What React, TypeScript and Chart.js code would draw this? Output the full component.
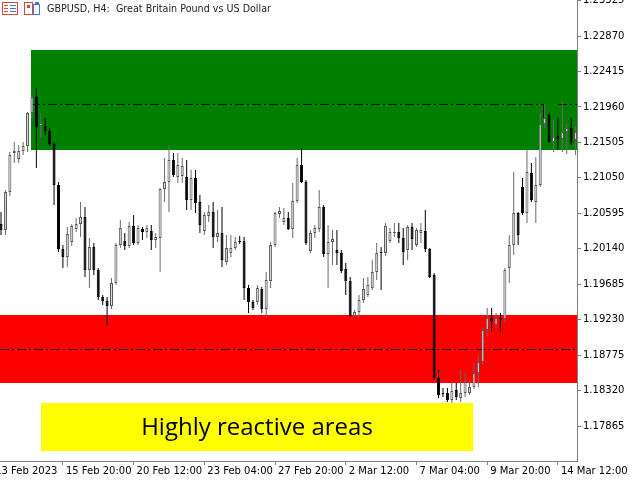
import React, { useEffect, useRef } from 'react';
import { Chart, registerables } from 'chart.js';

Chart.register(...registerables);

// ---- Data (GBPUSD H4) ----
const opens = [
  1.20458, 1.20380, 1.20868, 1.21369, 1.21292, 1.21394, 1.21459, 1.21882, 1.22087, 1.21715,
  1.21715, 1.21651, 1.21485, 1.20958, 1.20137, 1.20034, 1.20226, 1.20394, 1.20458, 1.20547,
  1.19867, 1.20162, 1.19867, 1.19520, 1.19470, 1.19406, 1.19701, 1.20188, 1.20239, 1.20175,
  1.20432, 1.20214, 1.20394, 1.20354, 1.20367, 1.20252, 1.20277, 1.20906, 1.20996, 1.21279,
  1.21060, 1.21073, 1.21060, 1.20766, 1.21047, 1.20740, 1.20367, 1.20560, 1.20611, 1.20290,
  1.20342, 1.19969, 1.20086, 1.20149, 1.20239, 1.20239, 1.19636, 1.19457, 1.19457, 1.19624,
  1.19368, 1.19726, 1.20188, 1.20586, 1.20483, 1.20534, 1.20394, 1.20753, 1.21215, 1.20996,
  1.20111, 1.20342, 1.20394, 1.20676, 1.20073, 1.20226, 1.20124, 1.20086, 1.19880, 1.19726,
  1.19277, 1.19328, 1.19483, 1.19546, 1.19636, 1.19841, 1.20098, 1.20086, 1.20239, 1.20342,
  1.20354, 1.20277, 1.20124, 1.20419, 1.20188, 1.20342, 1.20367, 1.20137, 1.19803, 1.18481,
  1.18289, 1.18289, 1.18199, 1.18327, 1.18224, 1.18289, 1.18289, 1.18365, 1.18546, 1.18686,
  1.19097, 1.19251, 1.19161, 1.19251, 1.19238, 1.19892, 1.20188, 1.20599, 1.20932, 1.20599,
  1.21111, 1.20740, 1.20958, 1.21741, 1.21856, 1.21510, 1.21587, 1.21549, 1.21638, 1.21689,
  1.21536,
];
const highs = [
  1.20611, 1.20894, 1.21381, 1.21510, 1.21472, 1.21510, 1.21894, 1.22113, 1.22202, 1.21882,
  1.21817, 1.21689, 1.21510, 1.20996, 1.20188, 1.20419, 1.20458, 1.20534, 1.20740, 1.20676,
  1.20277, 1.20214, 1.19892, 1.19546, 1.19520, 1.19764, 1.20214, 1.20509, 1.20342, 1.20483,
  1.20573, 1.20445, 1.20419, 1.20445, 1.20445, 1.20342, 1.20919, 1.21304, 1.21472, 1.21369,
  1.21369, 1.21304, 1.21279, 1.21150, 1.21150, 1.20830, 1.20611, 1.20702, 1.20740, 1.20637,
  1.20676, 1.20316, 1.20316, 1.20290, 1.20303, 1.20290, 1.19675, 1.19483, 1.19675, 1.19649,
  1.19841, 1.20226, 1.20611, 1.20676, 1.20663, 1.20611, 1.20984, 1.21304, 1.21433, 1.21022,
  1.20380, 1.20445, 1.20894, 1.20702, 1.20445, 1.20380, 1.20380, 1.20124, 1.19956, 1.19777,
  1.19354, 1.19546, 1.19764, 1.19777, 1.19995, 1.20214, 1.20162, 1.20470, 1.20406, 1.20470,
  1.20470, 1.20406, 1.20445, 1.20470, 1.20406, 1.20470, 1.20637, 1.20149, 1.19829, 1.18584,
  1.18352, 1.18352, 1.18417, 1.18417, 1.18584, 1.18546, 1.18430, 1.18674, 1.18777, 1.19135,
  1.19380, 1.19380, 1.19316, 1.19316, 1.19892, 1.20316, 1.21124, 1.20611, 1.21047, 1.21407,
  1.21241, 1.21317, 1.21882, 1.21998, 1.21882, 1.21792, 1.21817, 1.22036, 1.21741, 1.21817,
  1.21715,
];
const lows = [
  1.20316, 1.20316, 1.20817, 1.21241, 1.21241, 1.21343, 1.21381, 1.21817, 1.21176, 1.21561,
  1.21600, 1.21459, 1.20702, 1.20098, 1.19892, 1.19905, 1.20175, 1.20354, 1.20290, 1.19777,
  1.19636, 1.19803, 1.19483, 1.19419, 1.19161, 1.19368, 1.19675, 1.20149, 1.20124, 1.20149,
  1.20188, 1.20188, 1.20252, 1.20277, 1.20124, 1.20149, 1.19841, 1.20740, 1.20611, 1.21060,
  1.20984, 1.20984, 1.20637, 1.20637, 1.20599, 1.20342, 1.20316, 1.20483, 1.20149, 1.20226,
  1.19905, 1.19931, 1.20034, 1.20124, 1.20201, 1.19483, 1.19316, 1.19354, 1.19419, 1.19316,
  1.19251, 1.19636, 1.20162, 1.20534, 1.20445, 1.20380, 1.20277, 1.20728, 1.20984, 1.20188,
  1.20086, 1.20277, 1.20354, 1.20034, 1.19636, 1.19931, 1.19931, 1.19829, 1.19546, 1.19264,
  1.19264, 1.19264, 1.19445, 1.19520, 1.19610, 1.19739, 1.19610, 1.20047, 1.20214, 1.20290,
  1.20214, 1.19931, 1.19995, 1.20124, 1.20162, 1.20214, 1.20098, 1.19764, 1.18455, 1.18224,
  1.18237, 1.18173, 1.18160, 1.18199, 1.18173, 1.18237, 1.18263, 1.18340, 1.18365, 1.18661,
  1.19007, 1.19071, 1.19122, 1.19071, 1.19199, 1.19701, 1.20060, 1.20188, 1.20573, 1.20470,
  1.20740, 1.20470, 1.20932, 1.21689, 1.21498, 1.21381, 1.21407, 1.21381, 1.21356, 1.21472,
  1.21343,
];
const closes = [
  1.20380, 1.20868, 1.21343, 1.21394, 1.21394, 1.21459, 1.21882, 1.22087, 1.21702, 1.21754,
  1.21651, 1.21485, 1.20958, 1.20137, 1.20034, 1.20329, 1.20432, 1.20458, 1.20547, 1.19867,
  1.20162, 1.19867, 1.19520, 1.19470, 1.19406, 1.19701, 1.20188, 1.20406, 1.20175, 1.20432,
  1.20214, 1.20406, 1.20354, 1.20406, 1.20252, 1.20290, 1.20906, 1.20996, 1.21279, 1.21086,
  1.21215, 1.21202, 1.20766, 1.21047, 1.20728, 1.20445, 1.20573, 1.20611, 1.20290, 1.20342,
  1.19995, 1.20149, 1.20149, 1.20226, 1.20226, 1.19636, 1.19457, 1.19380, 1.19636, 1.19368,
  1.19739, 1.20188, 1.20599, 1.20624, 1.20534, 1.20394, 1.20753, 1.21215, 1.20996, 1.20214,
  1.20342, 1.20406, 1.20676, 1.20073, 1.20226, 1.20264, 1.20086, 1.19854, 1.19726, 1.19277,
  1.19328, 1.19483, 1.19624, 1.19675, 1.19841, 1.20086, 1.20086, 1.20432, 1.20354, 1.20354,
  1.20277, 1.20098, 1.20419, 1.20264, 1.20380, 1.20380, 1.20137, 1.19777, 1.18481, 1.18263,
  1.18276, 1.18199, 1.18314, 1.18237, 1.18289, 1.18430, 1.18365, 1.18546, 1.18686, 1.19097,
  1.19251, 1.19212, 1.19251, 1.19238, 1.19867, 1.20188, 1.20599, 1.20316, 1.20599, 1.21124,
  1.20766, 1.20958, 1.21741, 1.21817, 1.21510, 1.21574, 1.21549, 1.21638, 1.21689, 1.21510,
  1.21638,
];

const priceTicks = [
  1.17865, 1.1832, 1.18775, 1.1923, 1.19685, 1.2014, 1.20595, 1.2105, 1.21505, 1.2196, 1.22415, 1.2287, 1.23325,
];
const timeTickBars = [-2, 14, 30, 46, 62, 78, 94, 110, 126];
const timeTickLabels = [
  '13 Feb 2023', '15 Feb 20:00', '20 Feb 12:00', '23 Feb 04:00', '27 Feb 20:00',
  '2 Mar 12:00', '7 Mar 04:00', '9 Mar 20:00', '14 Mar 12:00',
];

const TITLE = 'GBPUSD, H4:  Great Britain Pound vs US Dollar';

// zones / levels (bar index + price)
const greenZone = { startBar: 6.8, top: 1.2269, bottom: 1.21407 };
const redZone = { top: 1.19295, bottom: 1.18421 };
const greenLevel = { price: 1.21998, startBar: 6.8, endBar: 122.6, dropTo: 1.21817, resumeBar: 126 };
const redLevel = 1.18854;
const noteBox = { fromBar: 9.05, toBar: 106.8, top: 1.1816, bottom: 1.17544, text: 'Highly reactive areas' };

const Y_MIN = 1.17416;
const Y_MAX = 1.23332;
const X_MIN = -0.23;
const X_MAX = 130.32;

const overlayPlugin = {
  id: 'mtOverlay',
  beforeDatasetsDraw(chart: any) {
    const { ctx, chartArea: a, scales } = chart;
    const xs = scales.x;
    const ys = scales.y;
    const px = (v: number) => Math.round(xs.getPixelForValue(v));
    const py = (v: number) => Math.round(ys.getPixelForValue(v));
    ctx.save();
    ctx.beginPath();
    ctx.rect(a.left, a.top, a.right - a.left, a.bottom - a.top);
    ctx.clip();
    const gx = px(greenZone.startBar);
    ctx.fillStyle = '#008000';
    ctx.fillRect(gx, py(greenZone.top), a.right - gx, py(greenZone.bottom) - py(greenZone.top));
    ctx.fillStyle = '#ff0000';
    ctx.fillRect(a.left, py(redZone.top), a.right - a.left, py(redZone.bottom) - py(redZone.top));

    ctx.strokeStyle = '#000000';
    ctx.lineWidth = 1;
    ctx.setLineDash([9, 3, 2, 3]);
    const gy = py(greenLevel.price) + 0.5;
    const ex = px(greenLevel.endBar) + 0.5;
    ctx.beginPath();
    ctx.moveTo(px(greenLevel.startBar), gy);
    ctx.lineTo(ex, gy);
    ctx.stroke();
    ctx.setLineDash([]);
    ctx.beginPath();
    ctx.moveTo(ex, gy);
    ctx.lineTo(ex, py(greenLevel.dropTo));
    ctx.stroke();
    ctx.setLineDash([9, 3, 2, 3]);
    ctx.beginPath();
    ctx.moveTo(px(greenLevel.resumeBar), gy);
    ctx.lineTo(a.right, gy);
    ctx.stroke();

    const ry = py(redLevel) + 0.5;
    ctx.beginPath();
    ctx.moveTo(a.left, ry);
    ctx.lineTo(a.right, ry);
    ctx.stroke();
    ctx.restore();
  },
  afterDatasetsDraw(chart: any) {
    const { ctx, scales } = chart;
    const xs = scales.x;
    const ys = scales.y;
    const x0 = Math.round(xs.getPixelForValue(noteBox.fromBar));
    const x1 = Math.round(xs.getPixelForValue(noteBox.toBar));
    const y0 = Math.round(ys.getPixelForValue(noteBox.top));
    const y1 = Math.round(ys.getPixelForValue(noteBox.bottom));
    ctx.save();
    ctx.fillStyle = '#ffff00';
    ctx.fillRect(x0, y0, x1 - x0, y1 - y0);
    ctx.fillStyle = '#000000';
    ctx.font = '24px "Open Sans"';
    ctx.textAlign = 'center';
    ctx.textBaseline = 'middle';
    ctx.fillText(noteBox.text, (x0 + x1) / 2, (y0 + y1) / 2 + 1, 240);
    ctx.restore();
  },
  afterDraw(chart: any) {
    const { ctx } = chart;
    ctx.save();
    // icon 1 (list)
    ctx.strokeStyle = '#e0463c';
    ctx.lineWidth = 1;
    ctx.strokeRect(2.5, 2.5, 15, 12);
    ctx.fillStyle = '#e0463c';
    ctx.fillRect(4, 5, 4, 1);
    ctx.fillRect(4, 8, 4, 1);
    ctx.fillRect(4, 11, 4, 1);
    ctx.fillStyle = '#3c78d8';
    ctx.fillRect(10, 5, 6, 1);
    ctx.fillRect(10, 8, 6, 1);
    ctx.fillRect(10, 11, 6, 1);
    // icon 2
    ctx.strokeStyle = '#e0463c';
    ctx.strokeRect(24.5, 2.5, 8, 12);
    ctx.fillStyle = '#e0463c';
    ctx.fillRect(27, 5, 3, 3);
    ctx.strokeStyle = '#3c78d8';
    ctx.strokeRect(33.5, 4.5, 6, 10);
    ctx.fillStyle = '#3c78d8';
    ctx.fillRect(35, 2, 4, 3);
    // title
    ctx.fillStyle = '#222222';
    ctx.font = '10px "DejaVu Sans"';
    ctx.textAlign = 'left';
    ctx.textBaseline = 'alphabetic';
    ctx.fillText(TITLE, 47, 12, 224);
    ctx.restore();
  },
};

export default function App() {
  const ref = useRef<HTMLCanvasElement>(null);
  useEffect(() => {
    document.body.style.margin = '0';
    const canvas = ref.current;
    if (!canvas) return;
    const n = Math.min(opens.length, highs.length, lows.length, closes.length);
    const upWicks: any[] = [];
    const downWicks: any[] = [];
    const upBodies: any[] = [];
    const downBodies: any[] = [];
    for (let i = 0; i < n; i++) {
      const up = closes[i] >= opens[i];
      (up ? upWicks : downWicks).push({ x: i, y: [lows[i], highs[i]] });
      (up ? upBodies : downBodies).push({ x: i, y: [opens[i], closes[i]] });
    }
    const tickFont = { family: '"DejaVu Sans"', size: 10 };
    const chart = new Chart(canvas, {
      type: 'bar',
      data: {
        datasets: [
          { label: 'up wick', data: upWicks, backgroundColor: '#6a6a6a', borderWidth: 0, barThickness: 1, grouped: false, order: 3, inflateAmount: 0 } as any,
          { label: 'down wick', data: downWicks, backgroundColor: '#000000', borderWidth: 0, barThickness: 1, grouped: false, order: 3, inflateAmount: 0 } as any,
          { label: 'up body', data: upBodies, backgroundColor: '#dcdcdc', borderColor: '#555555', borderWidth: 1, borderSkipped: false, barThickness: 3, minBarLength: 1, grouped: false, order: 1, inflateAmount: 0 } as any,
          { label: 'down body', data: downBodies, backgroundColor: '#000000', borderColor: '#000000', borderWidth: 1, borderSkipped: false, barThickness: 3, minBarLength: 1, grouped: false, order: 1, inflateAmount: 0 } as any,
        ],
      },
      options: {
        responsive: false,
        maintainAspectRatio: false,
        animation: false,
        events: [],
        layout: { padding: 0 },
        plugins: { legend: { display: false }, tooltip: { enabled: false }, title: { display: false } },
        scales: {
          x: {
            type: 'linear',
            position: 'bottom',
            offset: false,
            bounds: 'data',
            min: X_MIN,
            max: X_MAX,
            afterBuildTicks: (s: any) => {
              s.ticks = timeTickBars.map((v) => ({ value: v }));
            },
            afterFit: (s: any) => {
              s.height = 19;
              s.paddingLeft = 0;
              s.paddingRight = 0;
            },
            grid: { offset: false, drawOnChartArea: false, drawTicks: true, tickLength: 4, color: '#808080' },
            border: { display: true, color: '#808080', width: 1 },
            ticks: {
              autoSkip: false,
              maxRotation: 0,
              minRotation: 0,
              align: 'start',
              labelOffset: 3,
              padding: 0,
              color: '#000000',
              font: tickFont,
              callback: (_v: any, i: number) => timeTickLabels[i],
            },
          } as any,
          y: {
            type: 'linear',
            position: 'right',
            min: Y_MIN,
            max: Y_MAX,
            afterBuildTicks: (s: any) => {
              s.ticks = priceTicks.map((v) => ({ value: v }));
            },
            afterFit: (s: any) => {
              s.width = 63;
              s.paddingTop = 0;
              s.paddingBottom = 0;
            },
            grid: { drawOnChartArea: false, drawTicks: true, tickLength: 4, color: '#808080' },
            border: { display: true, color: '#808080', width: 1 },
            ticks: {
              autoSkip: false,
              padding: 2,
              crossAlign: 'near',
              color: '#000000',
              font: tickFont,
              callback: (v: any) => Number(v).toFixed(5),
            },
          } as any,
        },
      },
      plugins: [overlayPlugin],
    });
    return () => chart.destroy();
  }, []);
  return (
    <div style={{ width: 640, height: 480, background: '#ffffff' }}>
      <canvas ref={ref} width={640} height={480} style={{ display: 'block' }} />
    </div>
  );
}
